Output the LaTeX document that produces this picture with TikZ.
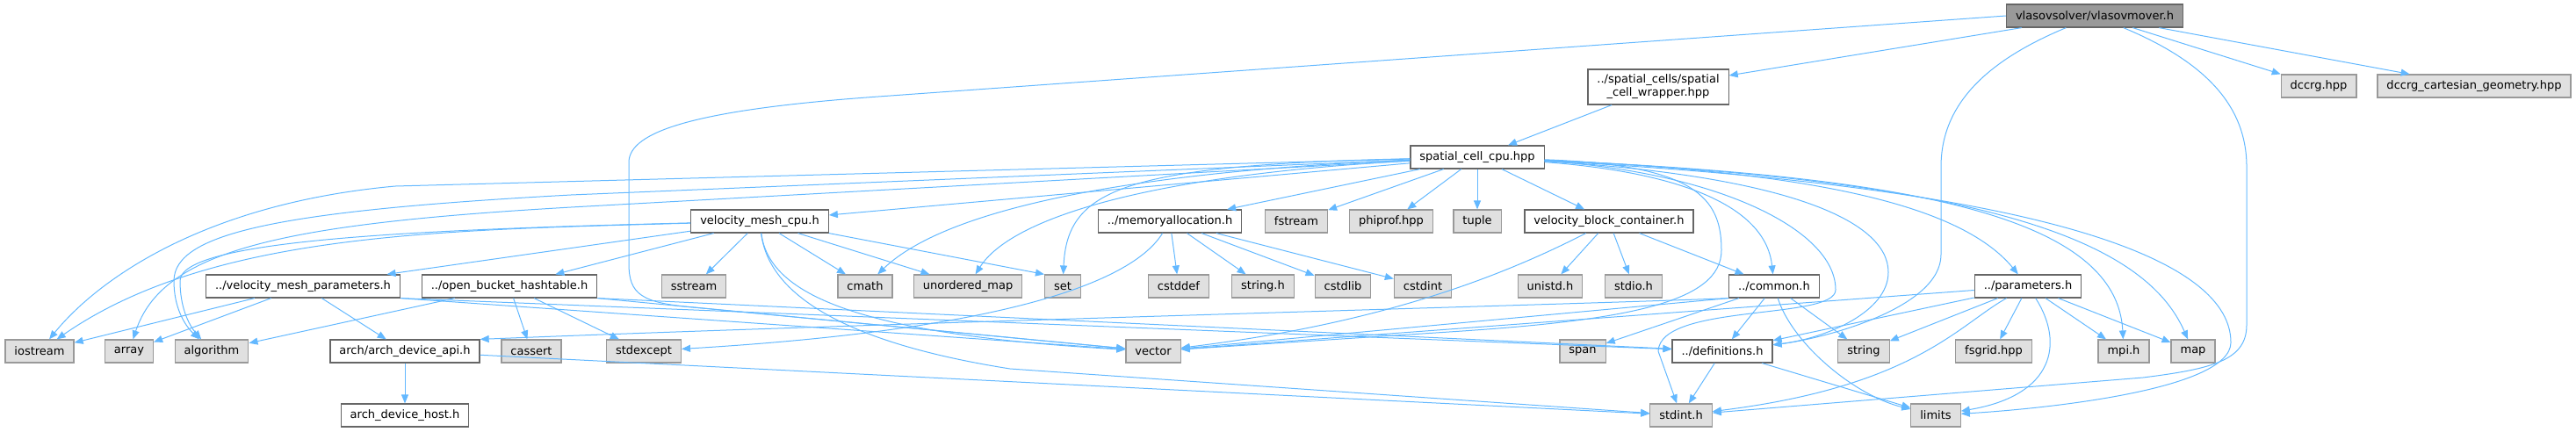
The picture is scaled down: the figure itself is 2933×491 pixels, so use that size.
\documentclass[tikz,border=0pt]{standalone}
\usepackage{fontspec}
\setmainfont{DejaVu Sans}
\usepackage{xcolor}
\usepackage{tikz}
\usetikzlibrary{arrows.meta}

\definecolor{depblue}{HTML}{63B8FF}
\definecolor{sysfill}{HTML}{E0E0E0}
\definecolor{sysline}{HTML}{999999}
\definecolor{fileline}{HTML}{666666}
\definecolor{rootfill}{HTML}{999999}

\begin{document}
\begin{tikzpicture}[x=1pt,y=-1pt,
    font=\fontsize{13}{15}\selectfont,
    file/.style={draw=fileline,fill=white,line width=1.2pt,minimum height=26pt,inner xsep=10.5pt,inner ysep=0pt},
    sysfile/.style={file,draw=sysline,fill=sysfill},
    rootfile/.style={file,fill=rootfill},
    dep/.style={draw=depblue,line width=1pt,-{Triangle[length=10pt,width=8pt]}}]
    \useasboundingbox (0,0) rectangle (2933,491);

    \node[rootfile] (vm) at (2385,18) {vlasovsolver/vlasovmover.h};
    \node[file,align=center,inner ysep=6pt] (scw) at (1888,99) {../spatial\_cells/spatial\\\_cell\_wrapper.hpp};
    \node[sysfile] (dccrg) at (2640,98) {dccrg.hpp};
    \node[sysfile] (dccrggeom) at (2817,98) {dccrg\_cartesian\_geometry.hpp};
    \node[file] (scc) at (1682,179) {spatial\_cell\_cpu.hpp};

    \node[file] (vmcpu) at (865,252) {velocity\_mesh\_cpu.h};
    \node[file] (memalloc) at (1332,252) {../memoryallocation.h};
    \node[sysfile] (fstream) at (1476,252) {fstream};
    \node[sysfile] (phiprof) at (1584,252) {phiprof.hpp};
    \node[sysfile] (tuple) at (1682,252) {tuple};
    \node[file] (vbc) at (1832,252) {velocity\_block\_container.h};

    \node[file] (vmp) at (345,326) {../velocity\_mesh\_parameters.h};
    \node[file] (obh) at (580,326) {../open\_bucket\_hashtable.h};
    \node[sysfile] (sstream) at (790,326) {sstream};
    \node[sysfile] (cmath) at (985,326) {cmath};
    \node[sysfile] (umap) at (1102,326) {unordered\_map};
    \node[sysfile] (stdset) at (1210,326) {set};
    \node[sysfile] (cstddef) at (1342,326) {cstddef};
    \node[sysfile] (stringh) at (1438,326) {string.h};
    \node[sysfile] (cstdlib) at (1529,326) {cstdlib};
    \node[sysfile] (cstdint) at (1620,326) {cstdint};
    \node[sysfile] (unistd) at (1765,326) {unistd.h};
    \node[sysfile] (stdioh) at (1860,326) {stdio.h};
    \node[file] (common) at (2020,326) {../common.h};
    \node[file] (params) at (2309,326) {../parameters.h};

    \node[sysfile] (iostream) at (45,400) {iostream};
    \node[sysfile] (array) at (147,400) {array};
    \node[sysfile] (algorithm) at (241,400) {algorithm};
    \node[file] (archapi) at (461,400) {arch/arch\_device\_api.h};
    \node[sysfile] (cassert) at (605,400) {cassert};
    \node[sysfile] (stdexcept) at (733,400) {stdexcept};
    \node[sysfile] (vector) at (1313,400) {vector};
    \node[sysfile] (span) at (1802,400) {span};
    \node[file] (defs) at (1961,400) {../definitions.h};
    \node[sysfile] (stdstring) at (2122,400) {string};
    \node[sysfile] (fsgrid) at (2270,400) {fsgrid.hpp};
    \node[sysfile] (mpih) at (2418,400) {mpi.h};
    \node[sysfile] (stdmap) at (2497,400) {map};

    \node[file] (archhost) at (461,473) {arch\_device\_host.h};
    \node[sysfile] (stdint) at (1914,473) {stdint.h};
    \node[sysfile] (limits) at (2204,473) {limits};

    % vlasovmover.h
    \draw[dep] (vm) -- (scw);
    \draw[dep] (vm) -- (dccrg);
    \draw[dep] (vm) -- (dccrggeom);
    \draw[dep] (vm.west) -- (1000,110) .. controls (790,125) and (716,150) .. (716,185) -- (716,300) .. controls (716,335) and (730,345) .. (790,350) -- (vector);
    \draw[dep] (vm) .. controls (2260,70) and (2210,120) .. (2210,190) -- (2210,290) .. controls (2210,350) and (2080,385) .. (defs);
    \draw[dep] (vm) .. controls (2510,70) and (2558,120) .. (2558,190) -- (2558,370) .. controls (2558,410) and (2520,420) .. (2440,430) -- (stdint);
    \draw[dep] (scw) -- (scc);

    % spatial_cell_cpu.hpp
    \draw[dep] (scc) -- (vmcpu);
    \draw[dep] (scc) -- (memalloc);
    \draw[dep] (scc) -- (fstream);
    \draw[dep] (scc) -- (phiprof);
    \draw[dep] (scc) -- (tuple);
    \draw[dep] (scc) -- (vbc);
    \draw[dep] (scc) -- (450,212) .. controls (230,232) and (110,320) .. (iostream);
    \draw[dep] (scc) -- (650,222) .. controls (320,240) and (198,265) .. (198,320) .. controls (198,350) and (210,370) .. (algorithm);
    \draw[dep] (scc) -- (650,236) .. controls (320,255) and (185,285) .. (array);
    \draw[dep] (scc) .. controls (1300,195) and (1080,235) .. (cmath);
    \draw[dep] (scc) .. controls (1300,200) and (1150,250) .. (umap);
    \draw[dep] (scc) .. controls (1280,188) and (1215,215) .. (stdset);
    \draw[dep] (scc) .. controls (1900,195) and (2010,230) .. (common);
    \draw[dep] (scc) .. controls (2050,195) and (2230,230) .. (params);
    \draw[dep] (scc) .. controls (2150,200) and (2410,240) .. (mpih);
    \draw[dep] (scc) .. controls (2250,205) and (2440,270) .. (stdmap);
    \draw[dep] (scc) .. controls (2350,215) and (2540,300) .. (2540,390) .. controls (2540,445) and (2320,466) .. (limits);
    \draw[dep] (scc) .. controls (2030,200) and (2150,250) .. (2150,310) .. controls (2150,355) and (2080,385) .. (defs);
    \draw[dep] (scc) .. controls (1950,195) and (2090,260) .. (2090,330) .. controls (2090,365) and (1890,345) .. (1888,400) -- (stdint);
    \draw[dep] (scc) .. controls (1930,188) and (1960,225) .. (1960,285) .. controls (1960,345) and (1850,365) .. (1650,378) -- (vector);

    % velocity_mesh_cpu.h
    \draw[dep] (vmcpu) -- (vmp);
    \draw[dep] (vmcpu) -- (obh);
    \draw[dep] (vmcpu) -- (sstream);
    \draw[dep] (vmcpu) -- (cmath);
    \draw[dep] (vmcpu) -- (umap);
    \draw[dep] (vmcpu.south east) -- (stdset.north west);
    \draw[dep] (vmcpu) .. controls (500,262) and (240,265) .. (iostream);
    \draw[dep] (vmcpu) .. controls (450,262) and (205,275) .. (205,320) .. controls (205,350) and (215,370) .. (algorithm);
    \draw[dep] (vmcpu) .. controls (875,330) and (960,380) .. (vector);
    \draw[dep] (vmcpu) .. controls (875,335) and (960,390) .. (1150,420) -- (stdint);

    \draw[dep] (vmp) -- (iostream);
    \draw[dep] (vmp) -- (array);
    \draw[dep] (vmp) -- (archapi);
    \draw[dep] (vmp.south east) -- (vector);
    \draw[dep] (vmp.south east) -- (defs);

    \draw[dep] (obh) -- (algorithm);
    \draw[dep] (obh) -- (cassert);
    \draw[dep] (obh) -- (stdexcept);
    \draw[dep] (obh.south east) -- (vector);
    \draw[dep] (obh.south east) -- (defs);

    \draw[dep] (memalloc) -- (cstddef);
    \draw[dep] (memalloc) -- (stringh);
    \draw[dep] (memalloc) -- (cstdlib);
    \draw[dep] (memalloc) -- (cstdint);
    \draw[dep] (memalloc) .. controls (1290,320) and (1150,375) .. (stdexcept);

    \draw[dep] (vbc) -- (unistd);
    \draw[dep] (vbc) -- (stdioh);
    \draw[dep] (vbc) -- (common);
    \draw[dep] (vbc) .. controls (1700,320) and (1560,370) .. (vector);

    % common.h and parameters.h
    \draw[dep] (common) -- (defs);
    \draw[dep] (common) -- (stdstring);
    \draw[dep] (common) -- (span);
    \draw[dep] (common.south west) -- (vector);
    \draw[dep] (common.south west) .. controls (1850,345) and (1000,368) .. (archapi.north east);
    \draw[dep] (common) .. controls (2040,390) and (2110,450) .. (limits);

    \draw[dep] (params) -- (defs);
    \draw[dep] (params) -- (stdstring);
    \draw[dep] (params) -- (fsgrid);
    \draw[dep] (params) -- (mpih);
    \draw[dep] (params) -- (stdmap);
    \draw[dep] (params) -- (vector);
    \draw[dep] (params) .. controls (2350,390) and (2340,450) .. (limits);
    \draw[dep] (params) .. controls (2230,370) and (2180,440) .. (stdint);

    \draw[dep] (defs) -- (stdint);
    \draw[dep] (defs) -- (limits);
    \draw[dep] (archapi) -- (archhost);
    \draw[dep] (archapi) -- (stdint);
\end{tikzpicture}
\end{document}
